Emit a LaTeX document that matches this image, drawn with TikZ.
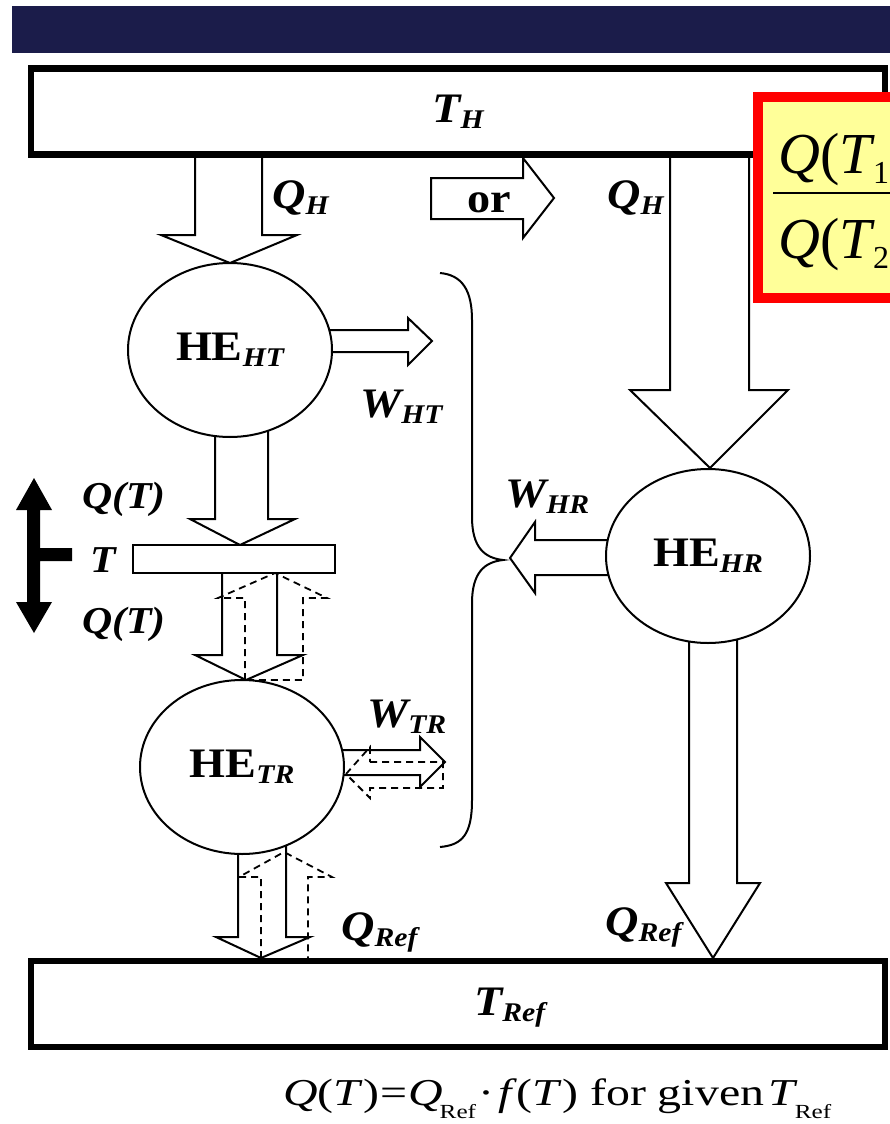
\documentclass[tikz,border=0pt]{standalone}
\usepackage{fontspec}
\setmainfont{Liberation Serif}[FakeStretch=1.1]
\newfontfamily\formfont{Liberation Serif}[FakeStretch=1.26]
\newfontfamily\fracfont{Liberation Serif}
\usetikzlibrary{shapes.geometric}
\definecolor{navy}{RGB}{27,28,74}
\definecolor{pale}{RGB}{255,255,153}
\newcommand\Lsub[1]{\raisebox{-6pt}{\fontsize{27}{28}\selectfont\bfseries\itshape #1}}
\newcommand\Fsub[1]{\kern-3pt\raisebox{-13pt}{\fontsize{20}{22}\selectfont #1}}
\begin{document}
\begin{tikzpicture}[x=1pt,y=-1pt,line join=miter,
  blk/.style={draw=black,line width=2pt},
  dsh/.style={draw=black,line width=1.8pt,dash pattern=on 7pt off 5pt},
  res/.style={rectangle,draw=black,line width=6.5pt,fill=white,inner sep=0pt,minimum width=854pt,minimum height=86pt},
  eng/.style={ellipse,draw=black,line width=2pt,fill=white,inner sep=0pt,minimum width=204pt,minimum height=174pt,font=\fontsize{42}{46}\selectfont\bfseries},
  lbl/.style={inner sep=0pt,anchor=base west,font=\fontsize{42}{46}\selectfont\bfseries\itshape},
  qlbl/.style={lbl,font=\fontsize{38}{40}\selectfont\bfseries\itshape}]
\useasboundingbox (0,0) rectangle (890,1124);
\fill[white] (0,0) rectangle (890,1124);
\fill[navy] (12,6) rectangle (890,53);

% solid block arrows
\draw[blk] (195,150) -- (195,235) -- (161,235) -- (230,263) -- (297,235) -- (262,235) -- (262,150);
\draw[blk] (431,178) -- (523,178) -- (523,158) -- (554,198) -- (523,238) -- (523,219) -- (431,219) -- cycle;
\draw[blk] (670,150) -- (670,390) -- (630,390) -- (710,468) -- (788,390) -- (749,390) -- (749,150);
\draw[blk] (320,330) -- (408,330) -- (408,318) -- (432,341) -- (408,365) -- (408,352) -- (320,352);
\draw[blk] (215,425) -- (215,519) -- (190,519) -- (240,545) -- (295,519) -- (268,519) -- (268,425);
\draw[blk] (222,570) -- (222,655) -- (195,655) -- (246,680) -- (303,655) -- (277,655) -- (277,570);
\draw[blk] (330,750) -- (420,750) -- (420,737) -- (445,762) -- (420,787) -- (420,775) -- (330,775);
\draw[blk] (238,840) -- (238,937) -- (216,937) -- (261,958) -- (310,937) -- (286,937) -- (286,840);
\draw[blk] (620,540) -- (535,540) -- (535,522) -- (510,558) -- (535,593) -- (535,575) -- (620,575);
\draw[blk] (689,630) -- (689,883) -- (666,883) -- (713,958) -- (760,883) -- (737,883) -- (737,630);

% brace
\draw[blk] (440,273) .. controls (462,275) and (472,290) .. (472,320) -- (472,517)
  .. controls (472,548) and (485,558) .. (503,560)
  .. controls (485,562) and (472,572) .. (472,603) -- (472,800)
  .. controls (472,835) and (462,845) .. (440,847);

% engines
\node[eng] (heht) at (230,350) {HE\Lsub{HT}};
\node[eng] (hetr) at (242,767) {HE\Lsub{TR}};
\node[eng] (hehr) at (708,556) {HE\Lsub{HR}};

% dashed (reversed) arrows
\draw[dsh] (245,680) -- (245,598) -- (218,598) -- (275,573) -- (327,598) -- (303,598) -- (303,680) -- cycle;
\draw[dsh] (261,958) -- (261,877) -- (239,877) -- (284,852) -- (332,877) -- (308,877) -- (308,958);
\draw[dsh] (370,762) -- (443,762) -- (443,788) -- (370,788) -- (370,798) -- (346,774) -- (370,747) -- cycle;

% reservoirs and intermediate level
\node[res,font=\fontsize{42}{46}\selectfont\bfseries\itshape] (th) at (458,111.5) {T\Lsub{H}};
\node[res] (tr) at (458,1004) {};
\node[rectangle,draw=black,line width=2pt,fill=white,inner sep=0pt,minimum width=202pt,minimum height=28pt] (tbar) at (234,559) {};

% level indicator
\fill[black] (27,510) -- (16,510) -- (34,478) -- (52,510) -- (40,510) -- (40,548) -- (72,548) -- (72,561) -- (40,561) -- (40,602) -- (52,602) -- (34,633) -- (16,602) -- (27,602) -- cycle;

% labels
\node[lbl] (qhl) at (272,208) {Q\Lsub{H}};
\node[lbl] (qhr) at (607,208) {Q\Lsub{H}};
\node[inner sep=0pt,anchor=base,font=\fontsize{42}{46}\selectfont\bfseries] (or) at (489,212) {or};
\node[lbl] (wht) at (360,417) {W\Lsub{HT}};
\node[lbl] (whr) at (505,507) {W\Lsub{HR}};
\node[lbl] (wtr) at (367,727) {W\Lsub{TR}};
\node[qlbl] (qtu) at (82,508) {Q(T)};
\node[qlbl] (tl) at (90,572) {T};
\node[qlbl] (qtd) at (82,633) {Q(T)};
\node[lbl] (qrl) at (341,940) {Q\Lsub{Ref}};
\node[lbl] (qrr) at (605,935) {Q\Lsub{Ref}};
\node[lbl] (trl) at (474,1015) {T\Lsub{Ref}};

\node[inner sep=0pt,anchor=base west,font=\formfont\fontsize{38}{40}\selectfont] (form) at (283,1105)
  {\textit{Q}(\textit{T})\kern1pt=\kern1pt\textit{Q}\Fsub{Ref}\kern2pt·\kern4pt\textit{f}(\textit{T}) for given\kern4pt\textit{T}\Fsub{Ref}};

% highlighted ratio box (cut by the picture edge)
\begin{scope}
\clip (0,0) rectangle (890,1124);
\draw[red,line width=10pt,fill=pale] (758,97) rectangle (910,298);
\node[inner sep=0pt,anchor=base west,font=\fracfont\fontsize{58}{60}\selectfont] (num) at (778,173)
  {\textit{Q}(\textit{T}\kern-2pt\raisebox{-10pt}{\fontsize{32}{34}\selectfont 1}};
\node[inner sep=0pt,anchor=base west,font=\fracfont\fontsize{58}{60}\selectfont] (den) at (778,258)
  {\textit{Q}(\textit{T}\kern-2pt\raisebox{-10pt}{\fontsize{32}{34}\selectfont 2}};
\draw[line width=2.2pt] (773,193) -- (910,193);
\end{scope}
\end{tikzpicture}
\end{document}
